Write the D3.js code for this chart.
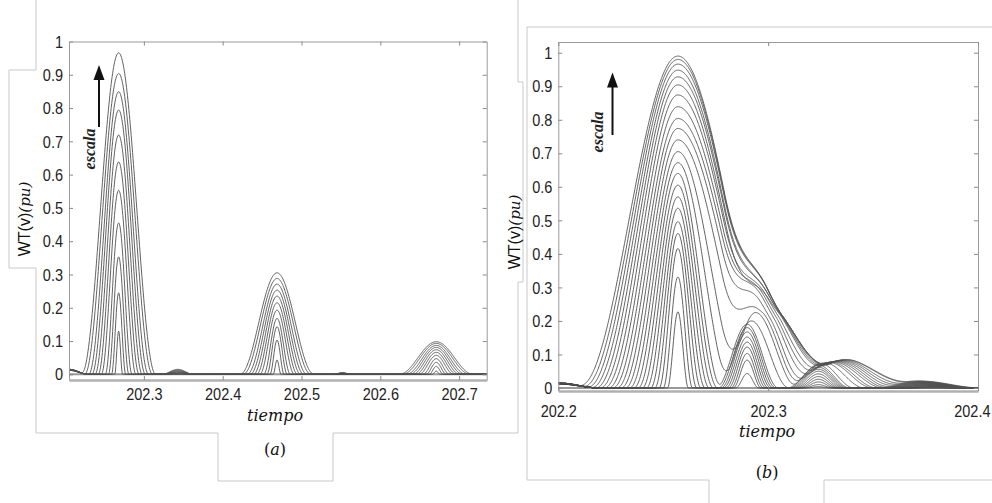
<!DOCTYPE html>
<html><head><meta charset="utf-8">
<script src="https://cdn.jsdelivr.net/npm/d3@7"></script>
<style>
body{margin:0;background:#fff;}
svg{display:block;background:#fff;}
.tick text{font-family:"Liberation Sans",Arial,sans-serif;font-size:14.5px;fill:#222;transform-box:fill-box;transform-origin:center;transform:scaleY(1.2);}
</style></head><body>
<svg id="chart" width="992" height="503"></svg>
<script>
// ================= DATA =================
// ---- Panel (a) ----
const aTicksX = [202.3, 202.4, 202.5, 202.6, 202.7];
const aTicksY = [0, 0.1, 0.2, 0.3, 0.4, 0.5, 0.6, 0.7, 0.8, 0.9, 1];
const aCenters = [202.268, 202.469, 202.671];           // peak positions (tiempo)
const aPeak1 = [0.13, 0.245, 0.353, 0.455, 0.553, 0.638, 0.719, 0.794, 0.849, 0.904, 0.966];
const aPeak2 = [0.043, 0.103, 0.143, 0.168, 0.193, 0.215, 0.235, 0.253, 0.271, 0.288, 0.305];
const aPeak3 = [0.010, 0.024, 0.036, 0.047, 0.057, 0.066, 0.074, 0.081, 0.087, 0.093, 0.098];
const aWidth = [0.005, 0.009, 0.013, 0.017, 0.022, 0.026, 0.030, 0.034, 0.038, 0.043, 0.047];
const aEdge  = [0.012, 0.012, 0.013, 0.013, 0.013, 0.014, 0.014, 0.014, 0.015, 0.015, 0.015];
const aBump  = [0.000, 0.001, 0.002, 0.003, 0.004, 0.006, 0.007, 0.009, 0.011, 0.013, 0.015];
const aTiny  = [0.000, 0.000, 0.001, 0.001, 0.002, 0.002, 0.003, 0.003, 0.004, 0.004, 0.005];

// ---- Panel (b) ----
const bTicksX = [202.2, 202.3, 202.4];
const bTicksY = [0, 0.1, 0.2, 0.3, 0.4, 0.5, 0.6, 0.7, 0.8, 0.9, 1];
const bMainC = 202.257;
const bMain   = [0.227, 0.331, 0.416, 0.461, 0.496, 0.536, 0.570, 0.605, 0.640, 0.672, 0.705, 0.740, 0.774, 0.804, 0.839, 0.874, 0.904, 0.928, 0.948, 0.966, 0.980, 0.990];
const bMainWL = [0.005, 0.007, 0.009, 0.011, 0.013, 0.015, 0.017, 0.019, 0.021, 0.023, 0.025, 0.027, 0.029, 0.031, 0.033, 0.035, 0.037, 0.039, 0.041, 0.043, 0.045, 0.047];
const bMainWR = [0.005, 0.007, 0.009, 0.011, 0.013, 0.015, 0.017, 0.019, 0.021, 0.026, 0.032, 0.040, 0.044, 0.046, 0.047, 0.048, 0.048, 0.049, 0.049, 0.050, 0.050, 0.050];
const bSec    = [0.043, 0.083, 0.103, 0.122, 0.137, 0.152, 0.167, 0.180, 0.190, 0.200, 0.225, 0.232, 0.236, 0.240, 0.242, 0.243, 0.244, 0.245, 0.245, 0.245, 0.245, 0.245];
const bSecC   = [202.290, 202.290, 202.290, 202.290, 202.290, 202.290, 202.290, 202.290, 202.290, 202.292, 202.294, 202.295, 202.296, 202.297, 202.298, 202.299, 202.300, 202.300, 202.300, 202.300, 202.300, 202.300];
const bSecWL  = [0.0055, 0.0067, 0.0078, 0.0090, 0.0102, 0.0114, 0.0125, 0.0137, 0.0149, 0.0160, 0.0165, 0.0170, 0.0180, 0.0190, 0.0195, 0.0200, 0.0200, 0.0210, 0.0210, 0.0210, 0.0210, 0.0210];
const bSecWR  = [0.0055, 0.0067, 0.0078, 0.0090, 0.0102, 0.0114, 0.0125, 0.0137, 0.0149, 0.0180, 0.0200, 0.0210, 0.0220, 0.0240, 0.0250, 0.0260, 0.0270, 0.0280, 0.0290, 0.0300, 0.0300, 0.0300];
const bThird  = [0.004, 0.010, 0.018, 0.026, 0.034, 0.042, 0.050, 0.056, 0.062, 0.068, 0.073, 0.075, 0.076, 0.077, 0.078, 0.079, 0.080, 0.081, 0.082, 0.083, 0.084, 0.085];
const bThirdW = [0.006, 0.007, 0.008, 0.009, 0.010, 0.011, 0.012, 0.013, 0.014, 0.015, 0.016, 0.019, 0.021, 0.022, 0.024, 0.025, 0.026, 0.027, 0.028, 0.029, 0.030, 0.030];
const bThirdC = [202.324, 202.324, 202.324, 202.324, 202.324, 202.324, 202.324, 202.324, 202.324, 202.324, 202.325, 202.327, 202.329, 202.330, 202.331, 202.332, 202.333, 202.334, 202.335, 202.336, 202.337, 202.337];
const bFourth = [0.000, 0.000, 0.002, 0.003, 0.004, 0.005, 0.006, 0.007, 0.008, 0.009, 0.010, 0.011, 0.012, 0.013, 0.014, 0.015, 0.016, 0.017, 0.018, 0.019, 0.020, 0.021];
const bFourthW= [0.008, 0.009, 0.010, 0.011, 0.012, 0.013, 0.014, 0.015, 0.016, 0.017, 0.018, 0.019, 0.020, 0.021, 0.022, 0.023, 0.024, 0.025, 0.026, 0.027, 0.028, 0.030];
const bFourthC= [202.379, 202.379, 202.378, 202.378, 202.378, 202.377, 202.377, 202.377, 202.376, 202.376, 202.376, 202.375, 202.375, 202.375, 202.374, 202.374, 202.374, 202.373, 202.373, 202.373, 202.372, 202.372];
const bEdge   = [0.012, 0.012, 0.012, 0.012, 0.013, 0.013, 0.013, 0.013, 0.013, 0.013, 0.014, 0.014, 0.014, 0.014, 0.014, 0.014, 0.015, 0.015, 0.015, 0.015, 0.015, 0.015];

// ================= DRAWING =================
const svg = d3.select("#chart");
const hann = (d, w) => Math.abs(d) < w ? Math.pow(Math.cos(Math.PI * d / (2 * w)), 2) : 0;
const hann2 = (d, wl, wr) => d < 0 ? hann(d, wl) : hann(d, wr);

function outline(points) {
  svg.append("path").attr("d", d3.line()(points))
    .attr("fill", "none").attr("stroke", "#c9c9c9").attr("stroke-width", 1);
}
outline([[36,0],[36,70],[9,70],[9,268],[36,268],[36,433],[218,433],[218,481],[333,481],[333,433],[518,433],[518,282],[523,282],[523,82],[518,82],[518,0]]);
outline([[992,27],[527,27],[527,480],[709,480],[709,503]]);
outline([[824,503],[824,480],[992,480]]);

function panel(opt) {
  const {x, y, ticksX, ticksY, curves, id} = opt;
  const [x0, x1] = x.range(), [yb, yt] = y.range();
  const g = svg.append("g");
  g.append("clipPath").attr("id", id).append("rect")
    .attr("x", x0).attr("y", yt).attr("width", x1 - x0).attr("height", yb - yt);
  g.append("line").attr("x1", x0).attr("x2", x1).attr("y1", y(0)).attr("y2", y(0))
    .attr("stroke", "#999").attr("stroke-width", 2);
  const [d0, d1] = x.domain();
  const n = 900;
  const xs = d3.range(n + 1).map(i => d0 + (d1 - d0) * i / n);
  const line = d3.line().x(d => x(d[0])).y(d => y(d[1]));
  const cg = g.append("g").attr("clip-path", `url(#${id})`);
  curves.forEach(f => {
    cg.append("path").attr("d", line(xs.map(t => [t, f(t)])))
      .attr("fill", "none").attr("stroke", "#505050").attr("stroke-width", 0.9)
      .attr("stroke-linejoin", "round");
  });
  const fmt = d => d === 0 ? "0" : d === 1 ? "1" : d.toFixed(1);
  const style = sel => { sel.selectAll(".domain").attr("stroke", "#9a9a9a"); sel.selectAll(".tick line").attr("stroke", "#8a8a8a"); };
  g.append("g").attr("transform", `translate(${x0},0)`)
    .call(d3.axisLeft(y).tickValues(ticksY).tickFormat(fmt).tickSizeInner(-4).tickSizeOuter(0).tickPadding(6)).call(style);
  g.append("g").attr("transform", `translate(${x1},0)`)
    .call(d3.axisRight(y).tickValues(ticksY).tickFormat("").tickSizeInner(-4).tickSizeOuter(0)).call(style);
  g.append("g").attr("transform", `translate(0,${yt})`)
    .call(d3.axisTop(x).tickValues(ticksX).tickFormat("").tickSizeInner(-4).tickSizeOuter(0)).call(style);
  const bx = g.append("g").attr("transform", `translate(0,${yb})`)
    .call(d3.axisBottom(x).tickValues(ticksX).tickFormat(d3.format(".1f")).tickSizeInner(-4).tickSizeOuter(0).tickPadding(opt.xPad)).call(style);
  bx.select(".domain").attr("stroke", "#b0b0b0").attr("stroke-width", 2.5);
  g.selectAll(".tick text").attr("fill", "#222");
  return {g, bx};
}

// ---- Panel (a) ----
const xa = d3.scaleLinear().domain([202.205, 202.735]).range([69, 486.7]);
const ya = d3.scaleLinear().domain([-0.017, 1.0]).range([380, 41.5]);
const aCurves = aPeak1.map((_, k) => t =>
  aPeak1[k] * hann(t - aCenters[0], aWidth[k]) +
  aPeak2[k] * hann(t - aCenters[1], aWidth[k]) +
  aPeak3[k] * hann(t - aCenters[2], aWidth[k]) +
  aEdge[k] * hann(t - 202.205, 0.025) +
  aBump[k] * hann(t - 202.343, 0.02) +
  aTiny[k] * hann(t - 202.552, 0.012));
panel({x: xa, y: ya, ticksX: aTicksX, ticksY: aTicksY, curves: aCurves, id: "clipA", xPad: 9});

// ---- Panel (b) ----
const xb = d3.scaleLinear().domain([202.2, 202.4]).range([558.3, 978]);
const yb = d3.scaleLinear().domain([-0.009, 1.032]).range([391, 42]);
const bCurves = bMain.map((_, k) => t =>
  bMain[k] * hann2(t - bMainC, bMainWL[k], bMainWR[k]) +
  bSec[k] * hann2(t - bSecC[k], bSecWL[k], bSecWR[k]) +
  bThird[k] * hann(t - bThirdC[k], bThirdW[k]) +
  bFourth[k] * hann(t - bFourthC[k], bFourthW[k]) +
  bEdge[k] * hann(t - 202.2, 0.02));
const pb = panel({x: xb, y: yb, ticksX: bTicksX, ticksY: bTicksY, curves: bCurves, id: "clipB", xPad: 15});
pb.bx.selectAll(".tick text").filter(d => d === bTicksX[bTicksX.length - 1])
  .attr("text-anchor", "end").attr("dx", 12);

// ---- labels ----
function yLabel(tx, ty) {
  const t = svg.append("text").attr("transform", `translate(${tx},${ty}) rotate(-90)`)
    .attr("text-anchor", "middle").attr("fill", "#111");
  t.append("tspan").attr("font-family", "Liberation Sans, Arial, sans-serif").attr("font-size", 16).text("WT(v)");
  t.append("tspan").attr("font-family", "DejaVu Serif, serif").attr("font-style", "italic").attr("font-size", 15).text("(pu)");
}
yLabel(30, 219);
yLabel(519.5, 232);

function escala(tx, ty, ax, aTop, aBot) {
  svg.append("text").attr("transform", `translate(${tx},${ty}) rotate(-90)`)
    .attr("text-anchor", "middle").attr("font-family", "Liberation Serif, serif")
    .attr("font-style", "italic").attr("font-weight", "bold").attr("font-size", 16).attr("fill", "#222").text("escala");
  svg.append("line").attr("x1", ax).attr("x2", ax).attr("y1", aBot).attr("y2", aTop + 14)
    .attr("stroke", "#111").attr("stroke-width", 2);
  svg.append("path").attr("d", `M${ax - 5.5},${aTop + 15}L${ax + 5.5},${aTop + 15}L${ax},${aTop}Z`).attr("fill", "#111");
}
escala(95, 149, 99, 65, 127);
escala(603, 132, 612.5, 72.5, 135);

function xLabel(cx, by, txt) {
  svg.append("text").attr("x", cx).attr("y", by).attr("text-anchor", "middle")
    .attr("font-family", "DejaVu Serif, serif").attr("font-style", "italic").attr("font-size", 16).attr("fill", "#111").text(txt);
}
xLabel(275, 421, "tiempo");
xLabel(767, 437, "tiempo");

function subLabel(cx, by, ch) {
  const t = svg.append("text").attr("x", cx).attr("y", by).attr("text-anchor", "middle")
    .attr("font-family", "DejaVu Serif, serif").attr("font-size", 16).attr("fill", "#111");
  t.append("tspan").text("(");
  t.append("tspan").attr("font-style", "italic").text(ch);
  t.append("tspan").text(")");
}
subLabel(275, 455, "a");
subLabel(767, 478, "b");
</script>
</body></html>
